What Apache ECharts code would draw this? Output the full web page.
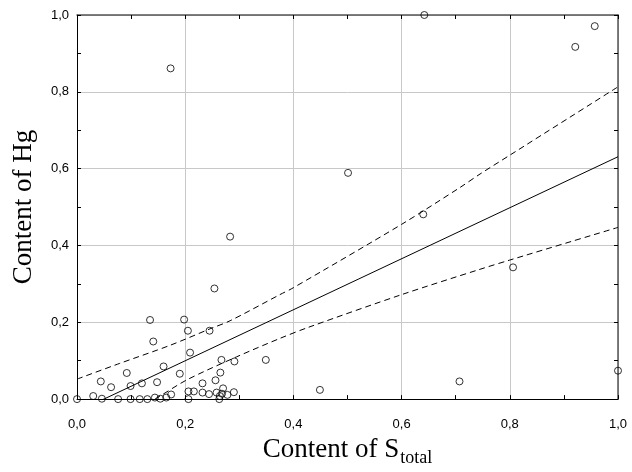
<!DOCTYPE html>
<html>
<head>
<meta charset="utf-8">
<script src="https://cdn.jsdelivr.net/npm/echarts@6/dist/echarts.min.js"></script>
<style>
  html, body { margin: 0; padding: 0; background: #fff; }
  #chart { width: 632px; height: 472px; }
</style>
</head>
<body>
<div id="chart"></div>
<script>
const sTotal = [0.173, 0.642, 0.921, 0.957, 0.501, 0.640, 0.806, 0.283, 0.254, 1.0,
  0.707, 0.449, 0.349, 0.135, 0.198, 0.205, 0.245, 0.141, 0.209, 0.267,
  0.291, 0.160, 0.092, 0.190, 0.265, 0.044, 0.063, 0.099, 0.120, 0.148,
  0.232, 0.256, 0.270, 0.0, 0.030, 0.046, 0.076, 0.099, 0.116, 0.130,
  0.144, 0.154, 0.165, 0.174, 0.206, 0.206, 0.216, 0.232, 0.244, 0.258,
  0.264, 0.268, 0.278, 0.290, 0.263]
const hg = [0.861, 1.0, 0.917, 0.971, 0.589, 0.481, 0.343, 0.423, 0.288, 0.074,
  0.046, 0.024, 0.102, 0.206, 0.207, 0.178, 0.178, 0.150, 0.121, 0.102,
  0.098, 0.085, 0.068, 0.066, 0.069, 0.046, 0.031, 0.034, 0.041, 0.044,
  0.041, 0.049, 0.028, 0.0, 0.008, 0.001, 0.0, 0.0, 0.0, 0.0,
  0.004, 0.001, 0.004, 0.012, 0.0, 0.020, 0.020, 0.017, 0.013, 0.017,
  0.008, 0.014, 0.011, 0.018, 0.0]

// fitted line and 95% band
const fitX = [0, 1]
const fitY = [-0.033, 0.631]
const upperX = [0, 0.079, 0.172, 0.246, 0.283, 0.375, 0.4, 0.6, 0.708, 0.745, 0.8, 1.0]
const upperY = [0.052, 0.093, 0.140, 0.183, 0.204, 0.272, 0.290, 0.455, 0.551, 0.586, 0.635, 0.813]
const lowerX = [0, 0.1, 0.15, 0.203, 0.295, 0.375, 0.428, 0.6, 0.745, 0.8, 1.0]
const lowerY = [-0.117, -0.035, 0.005, 0.050, 0.110, 0.158, 0.187, 0.272, 0.338, 0.362, 0.447]

const ticks = [0, 0.2, 0.4, 0.6, 0.8, 1.0]
const fmt = (v) => v.toFixed(1).replace('.', ',')

const pairs = (xs, ys) => xs.map((x, i) => [x, ys[i]])

const chart = echarts.init(document.getElementById('chart'))

const labelFont = { color: '#000', fontFamily: 'Liberation Sans', fontSize: 13 }
const tick = { show: true, inside: true, length: 4, lineStyle: { color: '#000' } }
const minor = { show: true, splitNumber: 2, length: 4, lineStyle: { color: '#000' } }

function mainAxis(extra) {
  return Object.assign({
    type: 'value', min: 0, max: 1, interval: 0.2,
    axisLine: { show: true, onZero: false, lineStyle: { color: '#000', width: 1 } },
    axisTick: tick,
    minorTick: minor,
    splitLine: { show: true, lineStyle: { color: '#c8c8c8', width: 1 } },
  }, extra)
}

function boxAxis(pos) {
  return {
    type: 'value', min: 0, max: 1, interval: 0.2, position: pos,
    axisLine: { show: true, onZero: false, lineStyle: { color: '#555', width: 1.5 } },
    axisTick: tick, minorTick: minor,
    splitLine: { show: false }, axisLabel: { show: false },
  }
}

chart.setOption({
  animation: false,
  grid: { left: 77, right: 14, top: 15, bottom: 65.5 },
  xAxis: [
    mainAxis({
      position: 'bottom',
      axisLabel: Object.assign({ margin: 19, formatter: fmt }, labelFont),
      name: '{a|Content of S}{b|total}',
      nameLocation: 'middle', nameGap: 33,
      nameTextStyle: {
        rich: {
          a: { fontFamily: 'Liberation Serif', fontSize: 27, lineHeight: 27, color: '#000', verticalAlign: 'top' },
          b: { fontFamily: 'Liberation Serif', fontSize: 18, lineHeight: 18, color: '#000', verticalAlign: 'top', padding: [13, 0, 0, 1] },
        },
      },
    }),
    boxAxis('top'),
  ],
  yAxis: [
    mainAxis({
      position: 'left',
      axisLabel: Object.assign({ margin: 8, formatter: fmt }, labelFont),
      name: 'Content of Hg',
      nameLocation: 'middle', nameGap: 40,
      nameTextStyle: { fontFamily: 'Liberation Serif', fontSize: 27, color: '#000' },
    }),
    boxAxis('right'),
  ],
  series: [
    {
      type: 'line', data: pairs(fitX, fitY), symbol: 'none', clip: true,
      lineStyle: { color: '#000', width: 1 },
    },
    {
      type: 'line', data: pairs(upperX, upperY), symbol: 'none', clip: true, smooth: 0.3,
      lineStyle: { color: '#000', width: 1, type: [6, 4] },
    },
    {
      type: 'line', data: pairs(lowerX, lowerY), symbol: 'none', clip: true, smooth: 0.3,
      lineStyle: { color: '#000', width: 1, type: [6, 4] },
    },
    {
      type: 'scatter', data: pairs(sTotal, hg), symbol: 'circle', symbolSize: 7,
      itemStyle: { color: 'rgba(0,0,0,0)', borderColor: '#000', borderWidth: 1 },
      z: 5,
    },
  ],
})
</script>
</body>
</html>
